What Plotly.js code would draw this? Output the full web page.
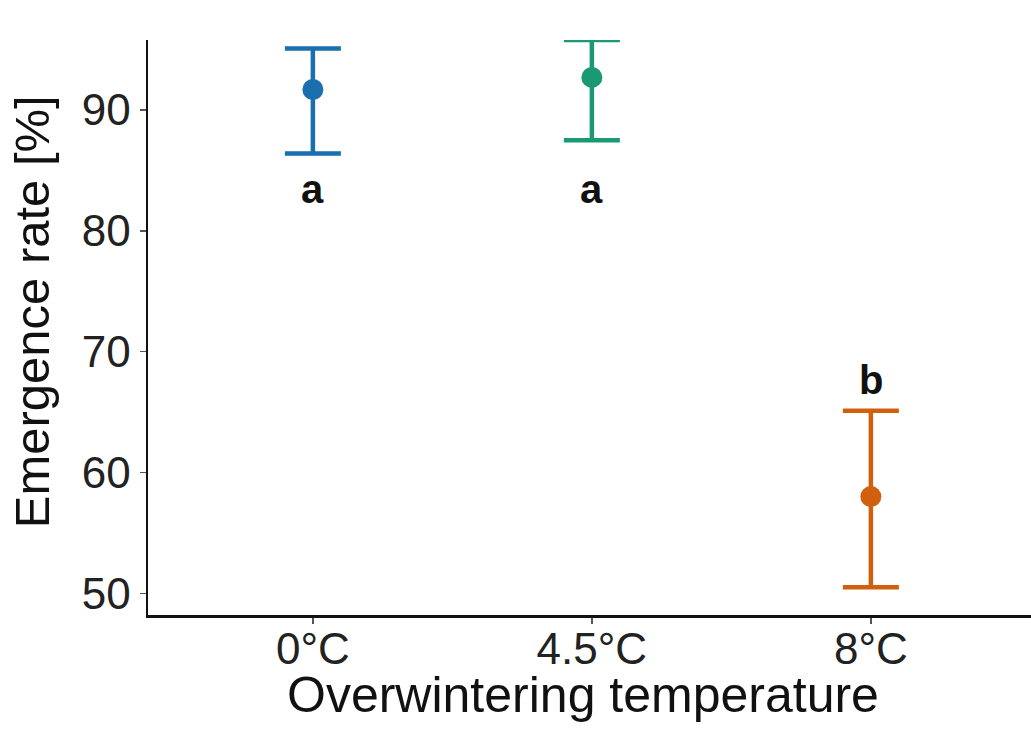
<!DOCTYPE html>
<html>
<head>
<meta charset="utf-8">
<script src="https://cdn.plot.ly/plotly-3.0.1.min.js"></script>
<style>
  html, body { margin: 0; padding: 0; background: #fff; }
  #chart { width: 1031px; height: 731px; }
</style>
</head>
<body>
<div id="chart"></div>
<script>
// Data
const categories = ['0°C', '4.5°C', '8°C'];
const meanRate = [91.7, 92.7, 58.0];
const upperCI = [95.1, 95.8, 65.1];
const lowerCI = [86.4, 87.5, 50.5];
const groupLetters = ['a', 'a', 'b'];
const colors = ['#1a6fae', '#1a9a74', '#d0600e'];

const xTitle = 'Overwintering temperature';
const yTitle = 'Emergence rate [%]';

const FONT = 'Liberation Sans, Arial, Helvetica, sans-serif';

const traces = categories.map((c, i) => ({
  type: 'scatter',
  mode: 'markers',
  x: [c],
  y: [meanRate[i]],
  marker: { color: colors[i], size: 21 },
  error_y: {
    type: 'data',
    symmetric: false,
    array: [upperCI[i] - meanRate[i]],
    arrayminus: [meanRate[i] - lowerCI[i]],
    color: colors[i],
    thickness: 4.5,
    width: 28
  },
  showlegend: false,
  hoverinfo: 'x+y'
}));

// letters: high groups share a line below their lowest CI; low groups sit above their CI
const highLower = Math.min(...lowerCI.filter((v, i) => meanRate[i] >= 75));
const annotations = categories.map((c, i) => {
  const above = meanRate[i] < 75;
  return {
    x: c,
    y: above ? upperCI[i] : highLower,
    xref: 'x', yref: 'y',
    text: '<b>' + groupLetters[i] + '</b>',
    showarrow: false,
    yanchor: 'middle',
    yshift: above ? 31 : -35,
    font: { family: FONT, size: 40, color: '#111' }
  };
});

annotations.push({
  xref: 'paper', yref: 'paper',
  x: 0.4926, y: -0.139,
  xanchor: 'center', yanchor: 'middle',
  text: xTitle, showarrow: false,
  font: { family: FONT, size: 50, color: '#111' }
});
annotations.push({
  xref: 'paper', yref: 'paper',
  x: -0.131, y: 0.527,
  xanchor: 'center', yanchor: 'middle',
  textangle: -90,
  text: yTitle, showarrow: false,
  font: { family: FONT, size: 49, color: '#111' }
});

const layout = {
  width: 1031,
  height: 731,
  margin: { l: 148, r: 0, t: 40, b: 116 },
  paper_bgcolor: '#fff',
  plot_bgcolor: '#fff',
  xaxis: {
    type: 'category',
    categoryorder: 'array',
    categoryarray: categories,
    range: [-0.591, 2.574],
    showgrid: false,
    zeroline: false,
    showline: true,
    linecolor: '#111',
    linewidth: 2.5,
    ticks: 'outside',
    ticklen: 6,
    tickwidth: 1.5,
    tickcolor: '#555',
    ticklabelstandoff: -12,
    tickfont: { family: FONT, size: 44, color: '#222' }
  },
  yaxis: {
    range: [48.2, 95.8],
    tickvals: [50, 60, 70, 80, 90],
    showgrid: false,
    zeroline: false,
    showline: true,
    linecolor: '#111',
    linewidth: 2.5,
    ticks: 'outside',
    ticklen: 6,
    tickwidth: 1.5,
    tickcolor: '#555',
    tickfont: { family: FONT, size: 44, color: '#222' }
  },
  annotations: annotations
};

Plotly.newPlot('chart', traces, layout, { displayModeBar: false, staticPlot: true });
</script>
</body>
</html>
